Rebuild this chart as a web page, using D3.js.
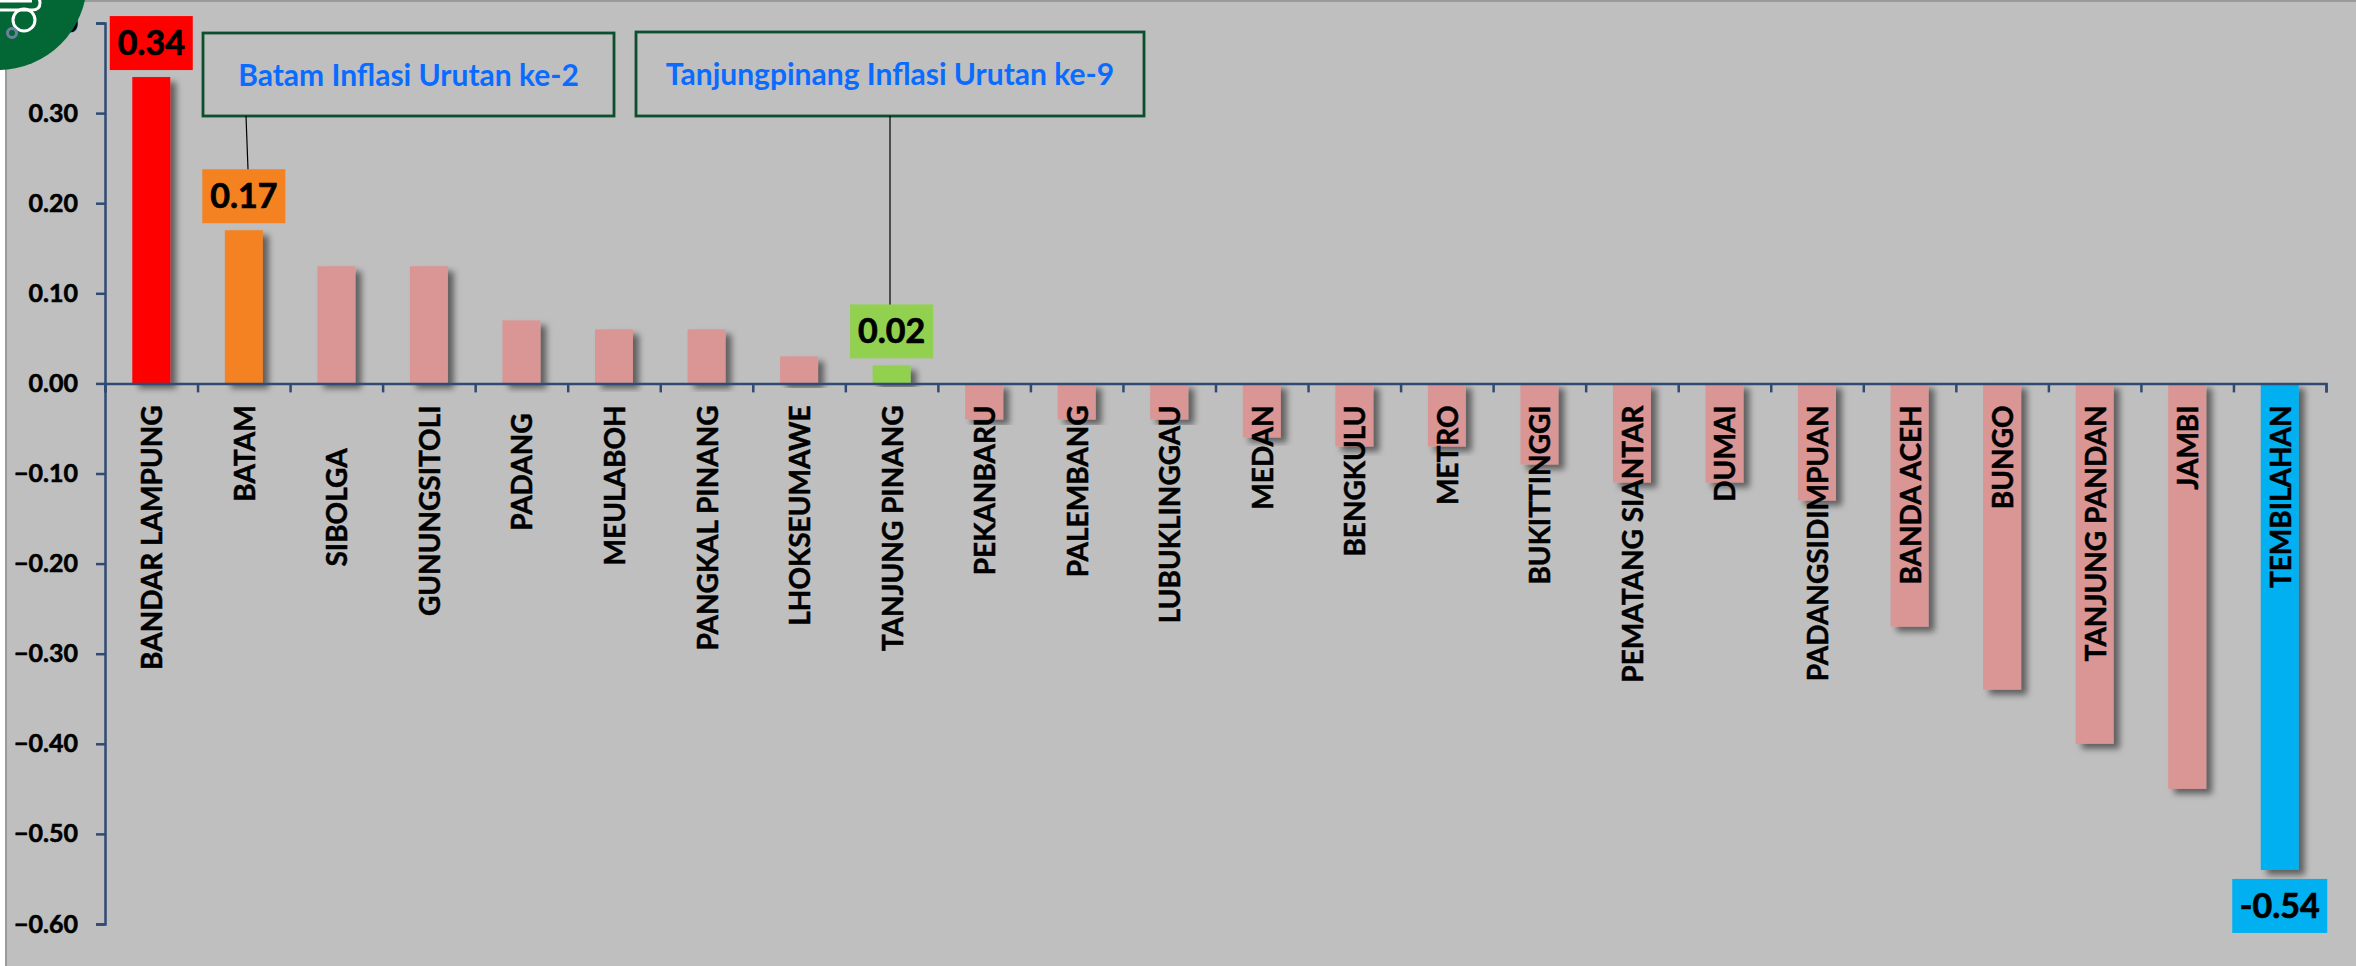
<!DOCTYPE html>
<html>
<head>
<meta charset="utf-8">
<script src="https://cdn.jsdelivr.net/npm/d3@7"></script>
<style>
html,body{margin:0;padding:0;background:#bfbfbf;overflow:hidden;}
svg{display:block;font-family:Lato,sans-serif;font-weight:700;}
</style>
</head>
<body>
<div id="chart"></div>
<script>
const cities = ['BANDAR LAMPUNG','BATAM','SIBOLGA','GUNUNGSITOLI','PADANG','MEULABOH','PANGKAL PINANG','LHOKSEUMAWE','TANJUNG PINANG','PEKANBARU','PALEMBANG','LUBUKLINGGAU','MEDAN','BENGKULU','METRO','BUKITTINGGI','PEMATANG SIANTAR','DUMAI','PADANGSIDIMPUAN','BANDA ACEH','BUNGO','TANJUNG PANDAN','JAMBI','TEMBILAHAN'];
const inflasi = [0.34,0.17,0.13,0.13,0.07,0.06,0.06,0.03,0.02,-0.04,-0.04,-0.04,-0.06,-0.07,-0.07,-0.09,-0.11,-0.11,-0.13,-0.27,-0.34,-0.40,-0.45,-0.54];
const yTicks = [0.4,0.3,0.2,0.1,0,-0.1,-0.2,-0.3,-0.4,-0.5,-0.6];
const highlight = {'BANDAR LAMPUNG':'#ff0000','BATAM':'#f58220','TANJUNG PINANG':'#92d050','TEMBILAHAN':'#00b0f0'};
const callouts = [
  {text:'Batam Inflasi Urutan ke-2',city:'BATAM'},
  {text:'Tanjungpinang Inflasi Urutan ke-9',city:'TANJUNG PINANG'}
];

const W = 2356, H = 966;
const axisColor = '#2f4b73';

const svg = d3.select('#chart').append('svg').attr('width',W).attr('height',H);

//drop shadow of the bars
const defs = svg.append('defs');
const shadow = defs.append('filter').attr('id','shadow')
  .attr('x','-30%').attr('y','-10%').attr('width','170%').attr('height','125%');
shadow.append('feDropShadow').attr('dx',6).attr('dy',5).attr('stdDeviation',3)
  .attr('flood-color','#000').attr('flood-opacity',0.5);

//page edges
svg.append('rect').attr('width',W).attr('height',H).attr('fill','#bfbfbf');
svg.append('rect').attr('width',5).attr('height',H).attr('fill','#ffffff');
svg.append('rect').attr('x',5).attr('width',2).attr('height',H).attr('fill','#9a9a9a');
svg.append('rect').attr('width',W).attr('height',2).attr('fill','#9a9a9a');

const y = d3.scaleLinear().domain([-0.6,0.4]).range([924,23]);
const x = d3.scaleBand().domain(cities).range([105,2326]).paddingInner(0.59).paddingOuter(0.295);
const tickX = d3.scaleLinear().domain([0,cities.length]).range([105,2326]);

//bars
svg.append('g').selectAll('rect').data(cities).join('rect')
  .attr('x',d=>x(d))
  .attr('width',x.bandwidth())
  .attr('y',(d,i)=>Math.min(y(inflasi[i]),y(0)))
  .attr('height',(d,i)=>Math.abs(y(inflasi[i])-y(0)))
  .attr('fill',d=>highlight[d]||'#d99694')
  .attr('filter','url(#shadow)');

//y axis
const yAxis = d3.axisLeft(y).tickValues(yTicks).tickFormat(d3.format('.2f')).tickSize(9).tickPadding(18);
const gy = svg.append('g').attr('transform','translate(105,0)').call(yAxis);
gy.selectAll('path,line').attr('stroke',axisColor).attr('stroke-width',2.5);
gy.selectAll('text').attr('font-size',25).attr('font-family','Lato').attr('font-weight',700)
  .attr('fill','#000').attr('stroke','#000').attr('stroke-width',0.6);

//x axis on the zero line, ticks between the categories
const xAxis = d3.axisBottom(tickX).tickValues(d3.range(cities.length+1)).tickFormat('').tickSize(9);
const gx = svg.append('g').attr('transform',`translate(0,${y(0)})`).call(xAxis);
gx.selectAll('path,line').attr('stroke',axisColor).attr('stroke-width',2.5);

//category labels, two of them sit lower in the original
const labelDrop = {'SIBOLGA':43,'PADANG':8};
svg.append('g').selectAll('text').data(cities).join('text')
  .attr('transform',d=>`translate(${x(d)+x.bandwidth()/2+11},${y(0)+22+(labelDrop[d]||0)}) rotate(-90)`)
  .attr('text-anchor','end')
  .attr('font-size',28)
  .attr('fill','#000').attr('stroke','#000').attr('stroke-width',0.5)
  .text(d=>d);

//value labels of the highlighted bars
const labelled = cities.map((c,i)=>({c,v:inflasi[i]})).filter(d=>highlight[d.c]);
const lh = 54;
const lab = svg.append('g').selectAll('g').data(labelled).join('g')
  .attr('transform',d=>{
    const cx = x(d.c)+x.bandwidth()/2;
    const top = d.v>0 ? y(d.v)-7-lh : y(d.v)+9;
    return `translate(${cx},${top})`;
  });
lab.append('rect').attr('x',d=>d.v<0?-47.5:-41.5).attr('width',d=>d.v<0?95:83).attr('height',lh).attr('fill',d=>highlight[d.c]);
lab.append('text').attr('y',39).attr('text-anchor','middle')
  .attr('font-size',34).attr('fill','#000').attr('stroke','#000').attr('stroke-width',0.7)
  .text(d=>d.v.toFixed(2));

//callout boxes
const boxes = [{x:203,y:33,w:411,h:83},{x:636,y:32,w:508,h:84}];
const cg = svg.append('g').selectAll('g').data(callouts).join('g');
cg.append('rect')
  .attr('x',(d,i)=>boxes[i].x).attr('y',(d,i)=>boxes[i].y)
  .attr('width',(d,i)=>boxes[i].w).attr('height',(d,i)=>boxes[i].h)
  .attr('fill','none').attr('stroke','#0b4f2e').attr('stroke-width',2.8);
cg.append('text')
  .attr('x',(d,i)=>boxes[i].x+boxes[i].w/2).attr('y',(d,i)=>boxes[i].y+53)
  .attr('text-anchor','middle').attr('font-size',30).attr('fill','#0a6cff')
  .text(d=>d.text);
cg.append('line')
  .attr('x1',(d,i)=>i===0?246:890).attr('y1',(d,i)=>boxes[i].y+boxes[i].h)
  .attr('x2',(d,i)=>i===0?248:890)
  .attr('y2',d=>y(inflasi[cities.indexOf(d.city)])-61)
  .attr('stroke','#000').attr('stroke-width',1.2);

//logo in the corner
const logo = svg.append('g');
logo.append('circle').attr('cx',-2).attr('cy',-19).attr('r',89).attr('fill','#036635');
logo.append('circle').attr('cx',24).attr('cy',20).attr('r',11).attr('fill','none').attr('stroke','#fff').attr('stroke-width',3);
logo.append('path').attr('d','M0,10H32Q40,10 40,3Q40,-2 36,-4M0,1H32').attr('fill','none').attr('stroke','#fff').attr('stroke-width',3);
logo.append('circle').attr('cx',12).attr('cy',33).attr('r',4.5).attr('fill','none').attr('stroke','#6b7f9e').attr('stroke-width',3);
</script>
</body>
</html>
